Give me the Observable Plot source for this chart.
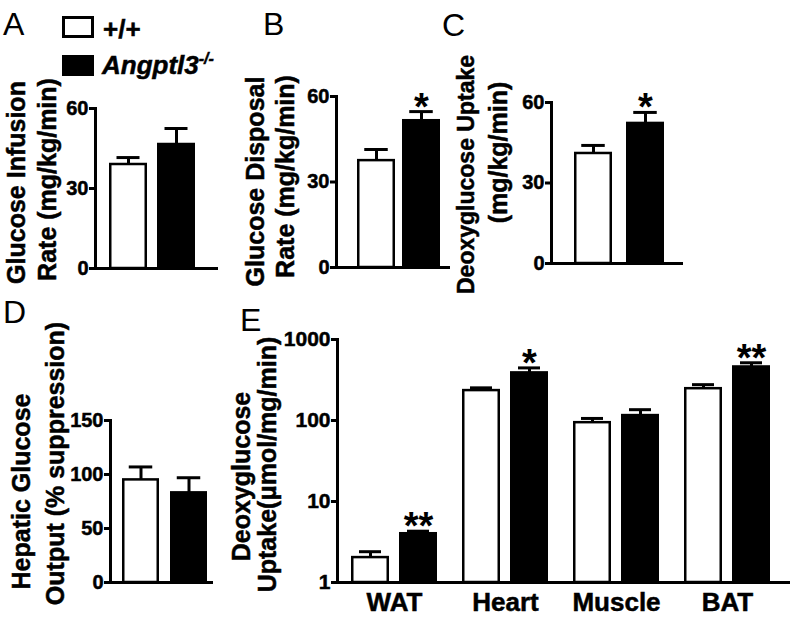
<!DOCTYPE html>
<html><head><meta charset="utf-8">
<script src="https://cdn.jsdelivr.net/npm/d3@7"></script>
<script src="https://cdn.jsdelivr.net/npm/@observablehq/plot@0.6"></script>
<style>
body{margin:0;background:#fff;font-family:"Liberation Sans",Arial,sans-serif;}
#fig{position:relative;width:793px;height:624px;overflow:hidden;background:#fff;color:#000}
#fig svg{position:absolute;overflow:visible;max-width:none}
.letter{position:absolute;font-size:32px;line-height:1;font-weight:normal}
.sw{position:absolute;box-sizing:border-box;border:3px solid #000}
.lt{position:absolute;font-size:26px;line-height:1;font-weight:bold;white-space:nowrap;-webkit-text-stroke:0.5px #000}
</style></head><body><div id="fig"></div>
<script>
// ---------- data ----------
const genotypes = ["+/+", "Angptl3-/-"];
const infusionMean = [39, 46.5];
const infusionSem = [2.6, 6];
const disposalMean = [37.5, 51.5];
const disposalSem = [3.9, 3.2];
const uptakeMean = [41, 52.2];
const uptakeSem = [3, 4.1];
const hepaticMean = [95, 83];
const hepaticSem = [12, 14];
const tissues = ["WAT", "Heart", "Muscle", "BAT"];
const tissueWtMean = [2.03, 234, 94, 247];
const tissueWtSem = [0.37, 19, 12, 30];
const tissueKoMean = [4.0, 387, 115, 458];
const tissueKoSem = [0.3, 59, 21, 58];
const tissueKoStars = ["**", "*", "", "**"];
const starsB = ["", "*"];
const starsC = ["", "*"];
const ticksABC = [0, 30, 60];
const ticksD = [0, 50, 100, 150];
const ticksE = [1, 10, 100, 1000];

const FONT = '"Liberation Sans", Arial, sans-serif';
const fig = document.getElementById("fig");
const heavy = {stroke: "black", strokeWidth: 0.5};

// title lines: x = screen x of cap top, cy = screen y of the line centre (absolute)
function titleMarks(lines, axisXAbs, frameMidAbs) {
  return lines.map(l => Plot.text([l.text], {
    frameAnchor: "left", rotate: -90, lineAnchor: "top", textAnchor: "middle",
    dx: l.x - axisXAbs, dy: l.cy - frameMidAbs, fontSize: l.fs || 25, fontWeight: "bold", fill: "black", ...heavy
  }));
}

function pairPanel(o) {
  const rows = genotypes.map((g, i) => ({g, mean: o.mean[i], hi: o.mean[i] + o.sem[i], star: (o.stars || [])[i] || ""}));
  const marginLeft = o.axisX - o.left, marginTop = o.frameTop - o.top;
  const marginBottom = o.top + o.height - o.frameBottom, marginRight = o.left + o.width - o.rightEnd;
  const frameMid = (o.frameTop + o.frameBottom) / 2;
  const capInset = (o.bw - 24) / 2;
  const svg = Plot.plot({
    width: o.width, height: o.height, marginLeft, marginTop, marginBottom, marginRight,
    style: {fontFamily: FONT, background: "transparent", overflow: "visible", color: "black"},
    x: {type: "band", domain: genotypes, range: o.barRange.map(v => v - o.left), paddingInner: o.pi, paddingOuter: 0, axis: null},
    y: {domain: [o.ticks[0], o.ticks[o.ticks.length - 1]]},
    color: {domain: genotypes, range: ["white", "black"]},
    marks: [
      Plot.ruleX(rows, {x: "g", y1: "mean", y2: "hi", strokeWidth: 3, stroke: "black"}),
      Plot.tickY(rows, {x: "g", y: "hi", strokeWidth: 3, stroke: "black", insetLeft: capInset, insetRight: capInset}),
      Plot.barY(rows, {x: "g", y: "mean", fill: "g", stroke: "black", strokeWidth: 2.5, insetLeft: 1.25, insetRight: 1.25}),
      Plot.text(rows.filter(d => d.star), {x: "g", y: "hi", text: "star", fontSize: 38, fontWeight: "bold", lineAnchor: "bottom", dy: 8, fill: "black"}),
      Plot.ruleY([o.ticks[0]], {strokeWidth: 3, stroke: "black"}),
      Plot.frame({anchor: "left", strokeWidth: 3, stroke: "black"}),
      Plot.axisY({ticks: o.ticks, tickSize: 6, tickPadding: 1, strokeWidth: 3, fontSize: 20, fontWeight: "bold", label: null, fill: "black", stroke: "black"}),
      ...titleMarks(o.title, o.axisX, frameMid)
    ]
  });
  svg.style.left = o.left + "px";
  svg.style.top = o.top + "px";
  svg.querySelectorAll('[aria-label="y-axis tick label"] text, [aria-label="y-axis tick label"]').forEach(n => { n.setAttribute("stroke", "black"); n.setAttribute("stroke-width", "0.5"); });
  fig.appendChild(svg);
}

// A
pairPanel({left: 0, top: 0, width: 225, height: 290, axisX: 95, frameTop: 108, frameBottom: 268, rightEnd: 218,
  barRange: [108, 196], pi: 0.204, bw: 39, ticks: ticksABC, mean: infusionMean, sem: infusionSem,
  title: [{text: "Glucose Infusion", x: 7, cy: 182}, {text: "Rate (mg/kg/min)", x: 38, cy: 179}]});
// B
pairPanel({left: 230, top: 0, width: 225, height: 290, axisX: 336, frameTop: 96, frameBottom: 267, rightEnd: 450,
  barRange: [357, 441], pi: 0.154, bw: 38.5, ticks: ticksABC, mean: disposalMean, sem: disposalSem, stars: starsB,
  title: [{text: "Glucose Disposal", x: 246, cy: 181}, {text: "Rate (mg/kg/min)", x: 276, cy: 176}]});
// C
pairPanel({left: 445, top: 0, width: 260, height: 290, axisX: 551, frameTop: 102, frameBottom: 263, rightEnd: 683,
  barRange: [574, 665], pi: 0.267, bw: 38.5, ticks: ticksABC, mean: uptakeMean, sem: uptakeSem, stars: starsC,
  title: [{text: "Deoxyglucose Uptake", x: 457, cy: 174, fs: 23}, {text: "(mg/kg/min)", x: 489, cy: 152}]});
// D
pairPanel({left: 0, top: 300, width: 225, height: 324, axisX: 110, frameTop: 420, frameBottom: 582, rightEnd: 213,
  barRange: [122, 208], pi: 0.227, bw: 37.5, ticks: ticksD, mean: hepaticMean, sem: hepaticSem,
  title: [{text: "Hepatic Glucose", x: 12, cy: 491}, {text: "Output (% suppression)", x: 46, cy: 463}]});

// E
(function () {
  const o = {left: 225, top: 300, width: 568, height: 324, axisX: 337, frameTop: 339, frameBottom: 582, rightEnd: 790};
  const rows = tissues.map((t, i) => ({t, wt: tissueWtMean[i], wtHi: tissueWtMean[i] + tissueWtSem[i],
    ko: tissueKoMean[i], koHi: tissueKoMean[i] + tissueKoSem[i], star: tissueKoStars[i]}));
  const frameMid = (o.frameTop + o.frameBottom) / 2;
  const bw = 86, half = bw / 2, barW = 38, cap = 22;
  const wC = barW / 2, kC = bw - barW / 2;
  const svg = Plot.plot({
    width: o.width, height: o.height,
    marginLeft: o.axisX - o.left, marginTop: o.frameTop - o.top,
    marginBottom: o.top + o.height - o.frameBottom, marginRight: o.left + o.width - o.rightEnd,
    style: {fontFamily: FONT, background: "transparent", overflow: "visible", color: "black"},
    x: {type: "band", domain: tissues, range: [350.85 - o.left, 770.15 - o.left], paddingInner: 0.226, paddingOuter: 0},
    y: {type: "log", domain: [1, 1000]},
    marks: [
      Plot.ruleX(rows, {x: "t", y1: "wt", y2: "wtHi", dx: wC - half, strokeWidth: 3, stroke: "black"}),
      Plot.ruleX(rows, {x: "t", y1: "ko", y2: "koHi", dx: kC - half, strokeWidth: 3, stroke: "black"}),
      Plot.tickY(rows, {x: "t", y: "wtHi", strokeWidth: 3, stroke: "black", insetLeft: wC - cap / 2, insetRight: bw - wC - cap / 2}),
      Plot.tickY(rows, {x: "t", y: "koHi", strokeWidth: 3, stroke: "black", insetLeft: kC - cap / 2, insetRight: bw - kC - cap / 2}),
      Plot.barY(rows, {x: "t", y1: 1, y2: "wt", fill: "white", stroke: "black", strokeWidth: 2.5, insetLeft: 1.25, insetRight: bw - barW + 1.25}),
      Plot.barY(rows, {x: "t", y1: 1, y2: "ko", fill: "black", stroke: "black", strokeWidth: 2.5, insetLeft: bw - barW + 1.25, insetRight: 1.25}),
      Plot.text(rows.filter(d => d.star), {x: "t", y: "koHi", text: "star", dx: kC - half, fontSize: 38, fontWeight: "bold", lineAnchor: "bottom", dy: 8, fill: "black"}),
      Plot.ruleY([1], {strokeWidth: 3, stroke: "black"}),
      Plot.frame({anchor: "left", strokeWidth: 3, stroke: "black"}),
      Plot.axisY({ticks: ticksE, tickFormat: d => String(d), tickSize: 6, tickPadding: 1, strokeWidth: 3, fontSize: 21, fontWeight: "bold", label: null, fill: "black", stroke: "black"}),
      Plot.axisX({tickSize: 0, tickPadding: 10, fontSize: 26, fontWeight: "bold", label: null, fill: "black"}),
      ...titleMarks([{text: "Deoxyglucose", x: 232, cy: 476}, {text: "Uptake(μmol/mg/min)", x: 258, cy: 464}], o.axisX, frameMid)
    ]
  });
  svg.style.left = o.left + "px";
  svg.style.top = o.top + "px";
  svg.querySelectorAll('[aria-label="y-axis tick label"], [aria-label="x-axis tick label"]').forEach(n => { n.setAttribute("stroke", "black"); n.setAttribute("stroke-width", "0.5"); });
  fig.appendChild(svg);
})();

// panel letters
[["A", 3, 8], ["B", 263, 8], ["C", 442, 9], ["D", 3, 296], ["E", 240, 304]].forEach(([t, x, y]) => {
  const d = document.createElement("div");
  d.className = "letter"; d.textContent = t; d.style.left = x + "px"; d.style.top = y + "px";
  fig.appendChild(d);
});

// legend
function sw(x, y, w, h, fill) {
  const d = document.createElement("div");
  d.className = "sw"; Object.assign(d.style, {left: x + "px", top: y + "px", width: w + "px", height: h + "px", background: fill});
  fig.appendChild(d);
}
sw(62, 16, 32, 22, "#fff");
sw(62, 55, 32, 21, "#000");
const l1 = document.createElement("div");
l1.className = "lt"; l1.style.left = "103px"; l1.style.top = "16px"; l1.textContent = genotypes[0];
fig.appendChild(l1);
const l2 = document.createElement("div");
l2.className = "lt"; l2.style.left = "102px"; l2.style.top = "52px"; l2.style.fontStyle = "italic";
l2.innerHTML = 'Angptl3<sup style="font-size:16px;vertical-align:0;position:relative;top:-10px">-/-</sup>';
fig.appendChild(l2);
</script></body></html>
